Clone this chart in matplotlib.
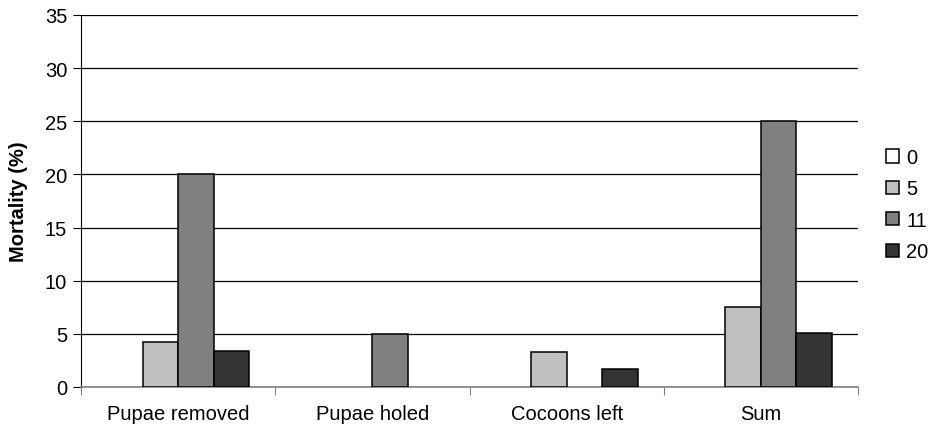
import matplotlib
matplotlib.use('Agg')
import matplotlib.pyplot as plt
from matplotlib.patches import Patch
import numpy as np

plt.rcParams['font.family'] = ['Liberation Sans', 'DejaVu Sans']

categories = ['Pupae removed', 'Pupae holed', 'Cocoons left', 'Sum']
series_names = ['0', '5', '11', '20']
vals_0 = [0, 0, 0, 0]
vals_5 = [4.2, 0, 3.3, 7.5]
vals_11 = [20, 5, 0, 25]
vals_20 = [3.4, 0, 1.7, 5.1]
colors = ['#ffffff', '#c0c0c0', '#808080', '#333333']

fig = plt.figure(figsize=(9.3, 4.31), dpi=100)
ax = fig.add_axes([0.0871, 0.0998, 0.8355, 0.8631])

x = np.arange(len(categories))
w = 0.183
for j, vals in enumerate([vals_0, vals_5, vals_11, vals_20]):
    bars = ax.bar(x + (j - 1.5) * w, vals, w, color=colors[j], edgecolor='black',
                  linewidth=1.1, zorder=3)
    # zero bars are not drawn at all in the original
    for b in bars:
        if b.get_height() == 0:
            b.set_visible(False)

ax.set_xlim(-0.5, 3.5)
ax.set_ylim(0, 35)
ax.set_yticks(range(0, 36, 5))
ax.yaxis.grid(True, color='black', linewidth=0.9)
ax.set_axisbelow(True)

# category boundaries get tick marks, labels sit in between
ax.set_xticks([-0.5, 0.5, 1.5, 2.5, 3.5])
ax.set_xticklabels([])
ax.set_xticks(x, minor=True)
ax.set_xticklabels(categories, minor=True)
ax.tick_params(axis='x', which='minor', length=0, pad=12, labelsize=14.5)
ax.tick_params(axis='x', which='major', length=6, color='#808080')
ax.tick_params(axis='y', length=6, labelsize=14.5, pad=4)

for s in ['top', 'right']:
    ax.spines[s].set_visible(False)
ax.spines['left'].set_color('black')
ax.spines['bottom'].set_color('#808080')
ax.spines['bottom'].set_linewidth(1.2)

ax.set_ylabel('Mortality (%)', fontsize=14.5, fontweight='bold', labelpad=12)

handles = [Patch(facecolor=c, edgecolor='black', linewidth=1.1) for c in colors]
fig.legend(handles, series_names, loc='center left', bbox_to_anchor=(0.942, 0.523),
           frameon=False, fontsize=14.5, handlelength=0.65, handleheight=0.65,
           handletextpad=0.35, labelspacing=0.62, borderpad=0)

plt.savefig('out.png', dpi=100)
plt.close(fig)
